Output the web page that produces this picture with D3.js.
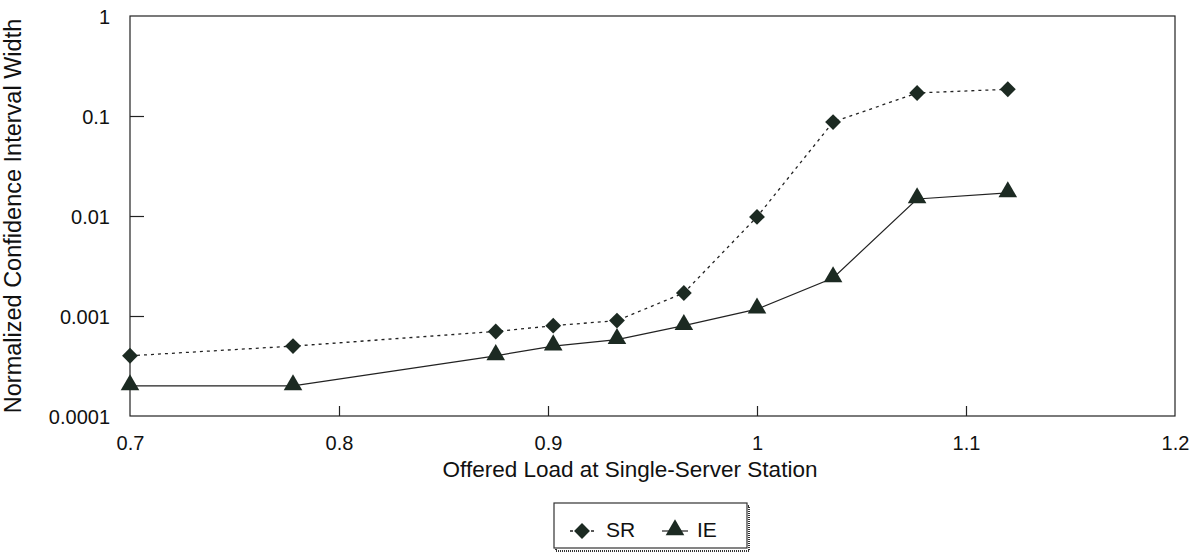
<!DOCTYPE html>
<html>
<head>
<meta charset="utf-8">
<script src="https://cdn.jsdelivr.net/npm/d3@7"></script>
<style>
  body { margin: 0; background: #fff; }
  text { font-family: "Liberation Sans", Arial, sans-serif; fill: #111; }
</style>
</head>
<body>
<div id="chart"></div>
<script>
// data
const loads = [0.7, 0.778, 0.875, 0.9025, 0.933, 0.965, 1.0, 1.0364, 1.0766, 1.12];
const srValues = [0.0004, 0.0005, 0.0007, 0.0008, 0.0009, 0.0017, 0.0098, 0.087, 0.17, 0.185];
const ieValues = [0.0002, 0.0002, 0.0004, 0.0005, 0.00058, 0.0008, 0.00117, 0.0024, 0.0148, 0.017];
const xTicks = [0.7, 0.8, 0.9, 1, 1.1, 1.2];
const yTicks = [1, 0.1, 0.01, 0.001, 0.0001];

const W = 1201, H = 554;
const margin = { top: 16, right: 26, bottom: 138, left: 130 };
const width = W - margin.left - margin.right;
const height = H - margin.top - margin.bottom;

const svg = d3.select("#chart").append("svg")
    .attr("width", W)
    .attr("height", H);

const g = svg.append("g")
    .attr("transform", `translate(${margin.left}, ${margin.top})`);

const x = d3.scaleLinear().domain([0.7, 1.2]).range([0, width]);
const y = d3.scaleLog().domain([0.0001, 1]).range([height, 0]);

// frame
g.append("rect")
    .attr("width", width)
    .attr("height", height)
    .attr("fill", "none")
    .attr("stroke", "#222")
    .attr("stroke-width", 1.2);

// axes, ticks point inward
const xAxis = g.append("g")
    .attr("transform", `translate(0, ${height})`)
    .call(d3.axisBottom(x).tickValues(xTicks).tickSize(-10).tickPadding(20)
        .tickFormat(d => String(+d.toFixed(1))));
xAxis.select(".domain").remove();
xAxis.selectAll("line").attr("stroke", "#222").attr("stroke-width", 1.2)
    .filter(d => d === 0.7 || d === 1.2).remove();
xAxis.selectAll("text").style("font-size", "20px");

const yAxis = g.append("g")
    .call(d3.axisLeft(y).tickValues(yTicks).tickSize(-14).tickPadding(20)
        .tickFormat(d => String(d)));
yAxis.select(".domain").remove();
yAxis.selectAll("line").attr("stroke", "#222").attr("stroke-width", 1.2)
    .filter(d => d === 1 || d === 0.0001).remove();
yAxis.selectAll("text").style("font-size", "20px").attr("dy", "0.35em");

// lines
const line = d3.line()
    .x(d => x(d[0]))
    .y(d => y(d[1]));

const sr = loads.map((l, i) => [l, srValues[i]]);
const ie = loads.map((l, i) => [l, ieValues[i]]);

g.append("path")
    .datum(sr)
    .attr("fill", "none")
    .attr("stroke", "#222")
    .attr("stroke-width", 1.3)
    .attr("stroke-dasharray", "3,4")
    .attr("d", line);

g.append("path")
    .datum(ie)
    .attr("fill", "none")
    .attr("stroke", "#222")
    .attr("stroke-width", 1.2)
    .attr("d", line);

const diamond = d3.symbol().type(d3.symbolDiamond2).size(160);
const triangle = d3.symbol().type(d3.symbolTriangle).size(150);

g.selectAll(".sr")
    .data(sr)
    .enter().append("path")
    .attr("class", "sr")
    .attr("transform", d => `translate(${x(d[0])}, ${y(d[1])})`)
    .attr("d", diamond)
    .attr("fill", "#1c2a22");

g.selectAll(".ie")
    .data(ie)
    .enter().append("path")
    .attr("class", "ie")
    .attr("transform", d => `translate(${x(d[0])}, ${y(d[1]) - 1})`)
    .attr("d", triangle)
    .attr("fill", "#1c2a22");

// axis titles
svg.append("text")
    .attr("x", 630)
    .attr("y", 477)
    .attr("text-anchor", "middle")
    .style("font-size", "22.5px")
    .text("Offered Load at Single-Server Station");

svg.append("text")
    .attr("transform", "rotate(-90)")
    .attr("x", -216)
    .attr("y", 21)
    .attr("text-anchor", "middle")
    .style("font-size", "23.5px")
    .text("Normalized Confidence Interval Width");

// legend
const lg = svg.append("g").attr("transform", "translate(554, 503)");
lg.append("rect")
    .attr("x", 2).attr("y", 3)
    .attr("width", 193).attr("height", 45)
    .attr("fill", "none")
    .attr("stroke", "#333")
    .attr("stroke-width", 2)
    .attr("stroke-dasharray", "1,1");
lg.append("rect")
    .attr("width", 193).attr("height", 45)
    .attr("fill", "#fff")
    .attr("stroke", "#333")
    .attr("stroke-width", 1.2);

lg.append("line")
    .attr("x1", 16).attr("x2", 40).attr("y1", 28).attr("y2", 28)
    .attr("stroke", "#222").attr("stroke-width", 1.3)
    .attr("stroke-dasharray", "3,4");
lg.append("path")
    .attr("transform", "translate(28, 28)")
    .attr("d", diamond)
    .attr("fill", "#1c2a22");
lg.append("text")
    .attr("x", 52).attr("y", 34)
    .style("font-size", "21px")
    .text("SR");

lg.append("line")
    .attr("x1", 108).attr("x2", 134).attr("y1", 28).attr("y2", 28)
    .attr("stroke", "#222").attr("stroke-width", 1.2);
lg.append("path")
    .attr("transform", "translate(121, 27)")
    .attr("d", triangle)
    .attr("fill", "#1c2a22");
lg.append("text")
    .attr("x", 143).attr("y", 34)
    .style("font-size", "21px")
    .text("IE");
</script>
</body>
</html>
